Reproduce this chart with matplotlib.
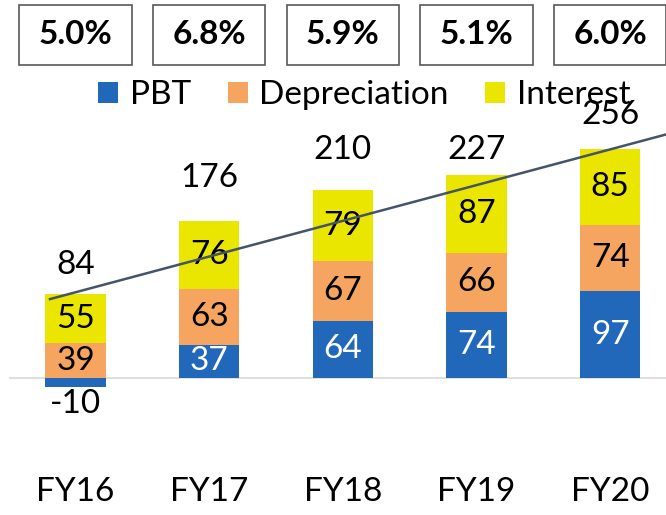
import matplotlib
matplotlib.use("Agg")
import matplotlib.pyplot as plt
import matplotlib.transforms as mtransforms
from matplotlib.patches import Rectangle
import numpy as np

plt.rcParams['font.family'] = ['Lato', 'DejaVu Sans']

# chart data
years = ['FY16', 'FY17', 'FY18', 'FY19', 'FY20']
pbt = [-10, 37, 64, 74, 97]
depreciation = [39, 63, 67, 66, 74]
interest = [55, 76, 79, 87, 85]
totals = [84, 176, 210, 227, 256]
margins = [5.0, 6.8, 5.9, 5.1, 6.0]

# trend line drawn across the bars
trend_x = [-0.2, 4.5]
trend_y = [88, 276]

# how far (points) each total label sits above its value
total_offsets = [27, 31, 29, 18, 25]

blue = '#2268BA'
orange = '#F5A55F'
yellow = '#EAE600'

fig = plt.figure(figsize=(6.66, 5.15), dpi=100)
ax = fig.add_axes([8.7 / 666, 45 / 515, 668.3 / 666, 470 / 515])

x = np.arange(len(years))
w = 0.45

# PBT first (negative goes below zero), others stack from the positive part
pbt_arr = np.array(pbt, dtype=float)
b1 = ax.bar(x, pbt_arr, w, color=blue, label='PBT', zorder=2)
dep_base = np.where(pbt_arr > 0, pbt_arr, 0)
b2 = ax.bar(x, depreciation, w, bottom=dep_base, color=orange, label='Depreciation', zorder=2)
int_base = dep_base + np.array(depreciation)
b3 = ax.bar(x, interest, w, bottom=int_base, color=yellow, label='Interest', zorder=2)

fs = 24
for i in range(len(years)):
    if pbt[i] >= 0:
        ax.text(x[i], pbt[i] / 2, str(pbt[i]), ha='center', va='center',
                color='white', fontsize=fs, zorder=4)
    else:
        ax.annotate(str(pbt[i]), (x[i], pbt[i]), xytext=(0, -12),
                    textcoords='offset points', ha='center', va='center',
                    fontsize=fs, zorder=4)
    ax.text(x[i], dep_base[i] + depreciation[i] / 2, str(depreciation[i]),
            ha='center', va='center', fontsize=fs, zorder=4)
    ax.text(x[i], int_base[i] + interest[i] / 2, str(interest[i]),
            ha='center', va='center', fontsize=fs, zorder=4)
    ax.annotate(str(totals[i]), (x[i], totals[i]), xytext=(0, total_offsets[i]),
                textcoords='offset points', ha='center', va='center',
                fontsize=fs, zorder=4)

ax.plot(trend_x, trend_y, color='#44546A', lw=1.8, zorder=5, solid_capstyle='butt')

ax.axhline(0, color='#D9D9D9', lw=1.2, zorder=1)

ax.set_xlim(-0.5, 4.5)
ax.set_ylim(-(470 - 378) / 0.893, 378 / 0.893)
ax.set_xticks(x)
ax.set_xticklabels(years, fontsize=24)
ax.tick_params(axis='x', length=0, pad=5)
ax.set_yticks([])
for s in ax.spines.values():
    s.set_visible(False)

# margin boxes across the top
trans = mtransforms.blended_transform_factory(ax.transData, fig.transFigure)
bw = 0.84
for i, m in enumerate(margins):
    r = Rectangle((x[i] - bw / 2, 1 - 65 / 515), bw, 60 / 515, transform=trans,
                  facecolor='white', edgecolor='#595959', lw=1.2, clip_on=False)
    fig.add_artist(r)
    t = fig.text(0, 0, f'{m:.1f}%', fontsize=24, fontweight='bold',
                 ha='center', va='center')
    t.set_transform(trans)
    t.set_position((x[i], 1 - 35 / 515))

fig.legend(handles=[b1, b2, b3], loc='center', bbox_to_anchor=(0.547, 1 - 95 / 515),
           ncol=3, frameon=False, fontsize=24, handlelength=0.6, handleheight=0.6,
           handletextpad=0.35, columnspacing=1.1, borderpad=0, borderaxespad=0)

fig.savefig('out.png', dpi=100, facecolor='white')
